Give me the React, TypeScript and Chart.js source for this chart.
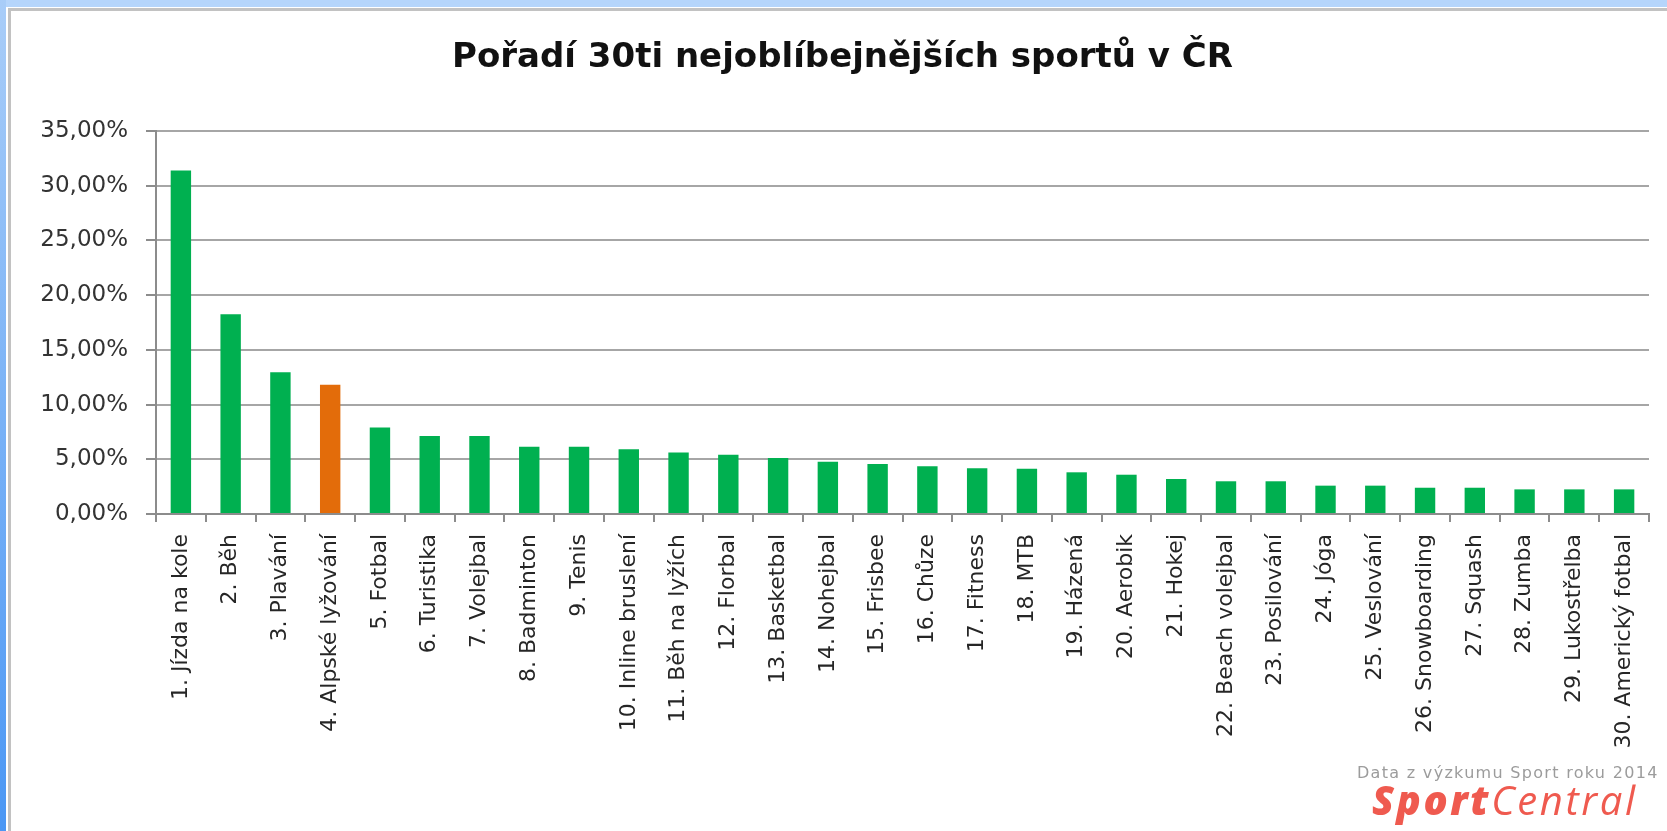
import React, { useEffect, useRef } from "react";
import { Chart, registerables } from "chart.js";

Chart.register(...registerables);

const TITLE = "Pořadí 30ti nejoblíbejnějších sportů v ČR";

const categories: string[] = [
  "1. Jízda na kole",
  "2. Běh",
  "3. Plavání",
  "4. Alpské lyžování",
  "5. Fotbal",
  "6. Turistika",
  "7. Volejbal",
  "8. Badminton",
  "9. Tenis",
  "10. Inline bruslení",
  "11. Běh na lyžích",
  "12. Florbal",
  "13. Basketbal",
  "14. Nohejbal",
  "15. Frisbee",
  "16. Chůze",
  "17. Fitness",
  "18. MTB",
  "19. Házená",
  "20. Aerobik",
  "21. Hokej",
  "22. Beach volejbal",
  "23. Posilování",
  "24. Jóga",
  "25. Veslování",
  "26. Snowboarding",
  "27. Squash",
  "28. Zumba",
  "29. Lukostřelba",
  "30. Americký fotbal",
];

const shares: number[] = [
  31.4, 18.25, 12.95, 11.8, 7.9, 7.13, 7.13, 6.15, 6.15, 5.92,
  5.62, 5.42, 5.12, 4.78, 4.57, 4.36, 4.17, 4.14, 3.81, 3.59,
  3.2, 2.99, 2.99, 2.59, 2.59, 2.4, 2.4, 2.25, 2.25, 2.25,
];

const highlightIndex = 3;

const yMin = 0;
const yMax = 35;
const yStep = 5;

const GREEN = "#00b050";
const ORANGE = "#e36c0a";

export default function App() {
  const canvasRef = useRef<HTMLCanvasElement | null>(null);

  useEffect(() => {
    const canvas = canvasRef.current;
    if (!canvas) return;
    const colors = shares.map((_, i) => (i === highlightIndex ? ORANGE : GREEN));
    const chart = new Chart(canvas, {
      type: "bar",
      data: {
        labels: categories,
        datasets: [
          {
            data: shares,
            backgroundColor: colors,
            borderWidth: 0,
            barPercentage: 0.41,
            categoryPercentage: 1,
          },
        ],
      },
      options: {
        responsive: false,
        animation: false,
        events: [],
        layout: { padding: { left: 36, right: 18, top: 0, bottom: 0 } },
        plugins: {
          legend: { display: false },
          tooltip: { enabled: false },
          title: {
            display: true,
            text: TITLE,
            color: "#111111",
            font: { family: "'DejaVu Sans'", size: 34, weight: "bold", lineHeight: 1.2 },
            padding: { top: 37.6, bottom: 52.6 },
          },
        },
        scales: {
          x: {
            grid: {
              display: true,
              drawOnChartArea: false,
              drawTicks: true,
              tickLength: 8,
              color: "#8c8c8c",
              lineWidth: 2,
              offset: true,
            },
            border: { display: true, color: "#8c8c8c", width: 2 },
            ticks: {
              autoSkip: false,
              minRotation: 90,
              maxRotation: 90,
              padding: 12,
              color: "#262626",
              font: { family: "'DejaVu Sans'", size: 22 },
            },
            afterFit: (scale: any) => {
              scale.height = 831 - 514;
            },
          },
          y: {
            min: yMin,
            max: yMax,
            grid: {
              color: "#a6a6a6",
              lineWidth: 2,
              tickLength: 10,
              tickColor: "#8c8c8c",
            },
            border: { display: true, color: "#8c8c8c", width: 2 },
            ticks: {
              stepSize: yStep,
              padding: 18,
              color: "#333333",
              font: { family: "'DejaVu Sans'", size: 23 },
              callback: (v: any) => Number(v).toFixed(2).replace(".", ",") + "%",
            },
            afterFit: (scale: any) => {
              scale.width = 120;
            },
          },
        },
      },
    });
    return () => chart.destroy();
  }, []);

  return (
    <div
      style={{
        position: "absolute",
        left: 0,
        top: 0,
        width: 1667,
        height: 831,
        background: "#ffffff",
        overflow: "hidden",
      }}
    >
      <div style={{ position: "absolute", left: 0, top: 0, width: 1667, height: 7, background: "#b5d5fb" }} />
      <div
        style={{
          position: "absolute",
          left: 0,
          top: 0,
          width: 6,
          height: 831,
          background: "linear-gradient(#a9cdf8, #4b97f4)",
        }}
      />
      <div style={{ position: "absolute", left: 8, top: 8, width: 1659, height: 3, background: "#c2c2c2" }} />
      <div style={{ position: "absolute", left: 8, top: 8, width: 3, height: 823, background: "#c2c2c2" }} />
      <canvas
        ref={canvasRef}
        width={1667}
        height={831}
        style={{ position: "absolute", left: 0, top: 0, width: 1667, height: 831 }}
      />
      <div
        style={{
          position: "absolute",
          left: 1357,
          top: 765,
          fontFamily: "'DejaVu Sans'",
          fontSize: 16,
          lineHeight: 1,
          color: "#9c9c9c",
          letterSpacing: 1.3,
          whiteSpace: "nowrap",
        }}
      >
        Data z výzkumu Sport roku 2014
      </div>
      <div
        style={{
          position: "absolute",
          left: 1372,
          top: 780,
          fontFamily: "'Open Sans'",
          fontStyle: "italic",
          fontSize: 40,
          lineHeight: 1,
          color: "#ef5a4f",
          letterSpacing: 2.6,
          whiteSpace: "nowrap",
        }}
      >
        <span style={{ fontWeight: 800 }}>Sport</span>
        <span style={{ fontWeight: 500 }}>Central</span>
      </div>
    </div>
  );
}
